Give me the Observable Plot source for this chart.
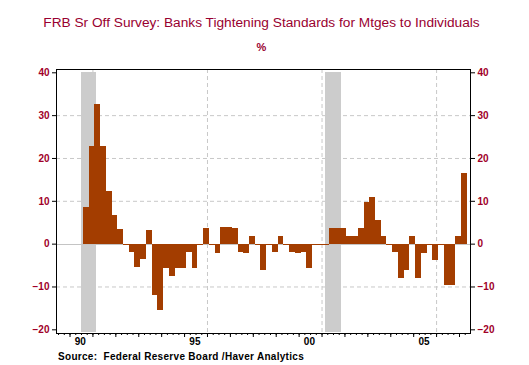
<!DOCTYPE html>
<html>
<head>
<meta charset="utf-8">
<script src="https://cdn.jsdelivr.net/npm/d3@7"></script>
<script src="https://cdn.jsdelivr.net/npm/@observablehq/plot@0.6"></script>
<style>
  html, body { margin: 0; padding: 0; background: #fff; }
  #wrap { position: relative; width: 529px; height: 365px; overflow: hidden; font-family: Arial, "Liberation Sans", sans-serif; }
  #wrap svg { position: absolute; left: 0; top: 0; }
  .title { position: absolute; left: 0; width: 523px; text-align: center; color: #990030; white-space: nowrap; }
  #t1 { top: 15.5px; font-size: 13.7px; line-height: 13.7px; }
  #t2 { top: 41.5px; font-size: 11px; line-height: 11px; font-weight: bold; }
  #src { position: absolute; left: 58px; top: 352px; font-size: 10px; line-height: 10px; font-weight: bold; letter-spacing: 0.3px; color: #000; white-space: nowrap; }
  g[aria-label="y-axis tick label"] text { fill: #a00028; font-weight: bold; }
  g[aria-label="x-axis tick label"] text { font-weight: bold; }
</style>
</head>
<body>
<div id="wrap">
  <div class="title" id="t1">FRB Sr Off Survey: Banks Tightening Standards for Mtges to Individuals</div>
  <div class="title" id="t2">%</div>
  <div id="src">Source:&nbsp; Federal Reserve Board /Haver Analytics</div>
</div>
<script>
// Survey months (quarterly Senior Loan Officer survey)
const surveyDates = [
  "1990-08","1990-11",
  "1991-02","1991-05","1991-08","1991-11",
  "1992-02","1992-05","1992-08","1992-11",
  "1993-02","1993-05","1993-08","1993-11",
  "1994-02","1994-05","1994-08","1994-11",
  "1995-02","1995-05","1995-08","1995-11",
  "1996-02","1996-05","1996-08","1996-11",
  "1997-02","1997-05","1997-08","1997-11",
  "1998-02","1998-05","1998-08","1998-11",
  "1999-02","1999-05","1999-08","1999-11",
  "2000-02","2000-05","2000-08","2000-11",
  "2001-02","2001-05","2001-08","2001-11",
  "2002-02","2002-05","2002-08","2002-11",
  "2003-02","2003-05","2003-08","2003-11",
  "2004-02","2004-05","2004-08","2004-11",
  "2005-02","2005-05","2005-08","2005-11",
  "2006-02","2006-05","2006-08","2006-11",
  "2007-02"
];
// Net % of banks tightening standards for mortgages to individuals
const tightening = [
  8.6, 22.7,
  32.5, 22.9, 12.4, 6.8,
  3.5, 0, -1.9, -5.4,
  -3.7, 3.3, -11.9, -15.4,
  -5.6, -7.5, -5.6, -5.6,
  -1.9, -5.6, 0, 3.7,
  0, -2.3, 4.0, 3.8,
  3.7, -1.9, -2.3, 1.9,
  0, -6.1, 0, -1.9,
  1.9, 0, -1.9, -2.3,
  -1.9, -5.8, 0, 0,
  0, 3.7, 3.7, 3.7,
  1.9, 1.9, 3.7, 9.8,
  11.0, 5.6, 1.9, 0,
  -1.9, -8.0, -6.1, 1.9,
  -8.0, -2.3, 0, -3.9,
  0, -9.6, -9.6, 1.9,
  16.4
];
// Recessions (decimal years)
const recessionStart = [1990.5, 2001.17];
const recessionEnd   = [1991.17, 2001.83];

const yTicks = [-20, -10, 0, 10, 20, 30, 40];
const yGrid = [-10, 10, 20, 30];
const xGridYears = [1991, 1996, 2001, 2006];
const xLabelYears = [1990, 1995, 2000, 2005];
const xLabels = ["90", "95", "00", "05"];

const toYear = s => +s.slice(0, 4) + (+s.slice(5, 7) - 1) / 12;
const bars = surveyDates.map((d, i) => ({
  t1: toYear(d),
  t2: i + 1 < surveyDates.length ? toYear(surveyDates[i + 1]) : toYear(d) + 0.25,
  v: tightening[i]
}));
const recessions = recessionStart.map((s, i) => ({start: s, end: recessionEnd[i]}));

const quarterTicks = d3.range(1989.5, 2007.5, 0.25);
const yearTicks = d3.range(1990, 2008, 1);
const labelPos = xLabelYears.map(y => y + 0.45);

const barColor = "#a33d00";
const gridColor = "#c8c8c8";

const chart = Plot.plot({
  width: 529,
  height: 365,
  marginLeft: 56,
  marginRight: 59,
  marginTop: 69,
  marginBottom: 32,
  style: {fontFamily: 'Arial, "Liberation Sans", sans-serif', fontSize: "10px", background: "transparent", overflow: "visible"},
  x: {domain: [1989.41, 2007.48]},
  y: {domain: [-20.86, 40.77]},
  marks: [
    Plot.ruleY(yGrid, {stroke: gridColor, strokeDasharray: "4,3"}),
    Plot.ruleX(xGridYears, {stroke: gridColor, strokeDasharray: "4,3"}),
    Plot.rect(recessions, {x1: "start", x2: "end", y1: -20.6, y2: 40, fill: "#cccccc", shapeRendering: "crispEdges"}),
    Plot.ruleY([0], {stroke: "#c4c4c4", shapeRendering: "crispEdges"}),
    Plot.rectY(bars, {x1: "t1", x2: "t2", y: "v", fill: barColor, shapeRendering: "crispEdges"}),
    Plot.ruleY(bars.filter(d => d.v === 0), {x1: "t1", x2: "t2", y: 0, stroke: barColor, shapeRendering: "crispEdges"}),
    Plot.frame({stroke: "black", shapeRendering: "crispEdges"}),
    Plot.axisY(yTicks, {anchor: "left", tickSize: 4, tickPadding: 3, label: null}),
    Plot.axisY(yTicks, {anchor: "right", tickSize: 4, tickPadding: 3, label: null}),
    Plot.axisX(quarterTicks, {tickSize: 2, tickFormat: () => "", label: null}),
    Plot.axisX(yearTicks, {tickSize: 4, tickFormat: () => "", label: null}),
    Plot.axisX(labelPos, {tickSize: 0, tickPadding: 4, tickFormat: d => xLabels[labelPos.indexOf(d)], label: null})
  ]
});
document.getElementById("wrap").prepend(chart);
</script>
</body>
</html>
